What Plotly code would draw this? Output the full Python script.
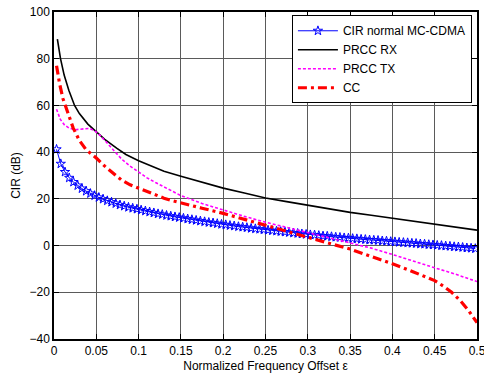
import numpy as np
import plotly.graph_objects as go

# Blue series (dense, star markers)
eps_blue = np.round(0.003 + 0.005 * np.arange(100), 4)
cir_normal = [41.2, 35.0, 31.5, 29.0, 27.2, 25.7, 24.4, 23.3, 22.3, 21.4,
              20.6, 19.9, 19.2, 18.6, 18.0, 17.4, 16.9, 16.4, 16.0, 15.6,
              15.2, 14.8, 14.4, 14.0, 13.6, 13.3, 12.9, 12.6, 12.3, 12.0,
              11.7, 11.4, 11.1, 10.8, 10.5, 10.2, 9.9, 9.7, 9.4, 9.1,
              8.9, 8.6, 8.4, 8.1, 7.9, 7.7, 7.4, 7.2, 7.0, 6.8,
              6.6, 6.4, 6.2, 6.0, 5.8, 5.6, 5.4, 5.2, 5.0, 4.8,
              4.6, 4.5, 4.3, 4.1, 4.0, 3.8, 3.6, 3.5, 3.3, 3.2,
              3.0, 2.9, 2.7, 2.6, 2.4, 2.3, 2.2, 2.0, 1.9, 1.7,
              1.6, 1.4, 1.3, 1.2, 1.0, 0.9, 0.7, 0.6, 0.4, 0.3,
              0.1, 0.0, -0.2, -0.3, -0.5, -0.6, -0.8, -1.0, -1.1, -1.3]

# PRCC RX (black solid)
eps_rx = [0.004, 0.0077, 0.012, 0.0175, 0.0243, 0.03, 0.04, 0.05, 0.06, 0.074,
          0.085, 0.1, 0.113, 0.13, 0.15, 0.175, 0.2, 0.225, 0.25, 0.275,
          0.3, 0.325, 0.35, 0.375, 0.4, 0.425, 0.45, 0.475, 0.5]
prcc_rx = [88.4, 80.0, 73.0, 66.5, 60.0, 56.5, 52.0, 48.8, 45.5, 41.7,
           39.0, 36.3, 34.2, 31.8, 29.7, 27.0, 24.6, 22.5, 20.4, 18.8,
           17.2, 15.7, 14.2, 13.0, 11.7, 10.4, 9.1, 7.9, 6.6]

# PRCC TX (magenta dotted)
eps_tx = [0.003, 0.0075, 0.0125, 0.018, 0.025, 0.034, 0.042, 0.048, 0.055, 0.06,
          0.065, 0.07, 0.075, 0.08, 0.09, 0.1, 0.11, 0.12, 0.13, 0.14,
          0.15, 0.175, 0.2, 0.225, 0.25, 0.275, 0.3, 0.325, 0.35, 0.375,
          0.4, 0.425, 0.45, 0.475, 0.5]
prcc_tx = [58.4, 54.0, 51.6, 50.3, 49.6, 49.8, 50.2, 49.2, 47.0, 45.0,
           43.0, 41.0, 39.0, 37.0, 34.0, 31.5, 29.0, 27.0, 25.2, 23.3,
           21.4, 18.0, 15.2, 12.5, 10.0, 7.8, 5.5, 3.4, 1.3, -1.1,
           -3.8, -6.5, -9.5, -12.3, -15.4]

# CC (red dash-dot)
eps_cc = [0.003, 0.0065, 0.0105, 0.0165, 0.0225, 0.03, 0.038, 0.05, 0.06, 0.07,
          0.08, 0.09, 0.1, 0.11, 0.12, 0.13, 0.14, 0.15, 0.175, 0.2,
          0.225, 0.25, 0.275, 0.3, 0.325, 0.35, 0.375, 0.4, 0.425, 0.45,
          0.46, 0.47, 0.48, 0.49, 0.5]
cc = [77.0, 69.5, 63.0, 56.6, 50.5, 45.0, 41.0, 37.5, 34.0, 31.0,
      28.0, 26.0, 24.5, 23.0, 21.5, 20.3, 19.2, 18.2, 16.0, 13.8,
      11.2, 8.7, 6.0, 3.3, 1.0, -1.5, -4.5, -7.8, -11.3, -15.0,
      -17.3, -20.0, -23.5, -27.8, -33.0]

x_ticks = [0, 0.05, 0.1, 0.15, 0.2, 0.25, 0.3, 0.35, 0.4, 0.45, 0.5]
x_ticklabels = ["0", "0.05", "0.1", "0.15", "0.2", "0.25", "0.3", "0.35", "0.4", "0.45", "0.5"]
y_ticks = [-40, -20, 0, 20, 40, 60, 80, 100]

FONT = "Liberation Sans, Arial, sans-serif"

fig = go.Figure()
fig.add_trace(go.Scatter(
    x=eps_blue, y=cir_normal, name="CIR normal MC-CDMA", mode="lines+markers",
    line=dict(color="#0000ff", width=1),
    marker=dict(symbol="star-open", size=7, color="#0000ff", line=dict(width=1, color="#0000ff"))))
fig.add_trace(go.Scatter(
    x=eps_rx, y=prcc_rx, name="PRCC RX", mode="lines",
    line=dict(color="#000000", width=1.6)))
fig.add_trace(go.Scatter(
    x=eps_tx, y=prcc_tx, name="PRCC TX", mode="lines",
    line=dict(color="#ff00ff", width=1.6, dash="3px,2px")))
fig.add_trace(go.Scatter(
    x=eps_cc, y=cc, name="CC", mode="lines",
    line=dict(color="#ff0000", width=3.2, dash="9px,4px,3px,4px")))

axis_common = dict(
    showline=True, linecolor="black", linewidth=1.5, mirror="ticks",
    ticks="inside", ticklen=5, tickcolor="black", tickwidth=1,
    showgrid=True, gridcolor="#5a5a5a", gridwidth=1,
    zeroline=False, automargin=False, ticklabeloverflow="allow",
    tickfont=dict(family=FONT, size=12, color="black"),
)

fig.update_layout(
    width=484, height=377,
    margin=dict(l=54, r=7, t=12, b=38),
    paper_bgcolor="white", plot_bgcolor="white",
    font=dict(family=FONT, size=12, color="black"),
    showlegend=True,
    legend=dict(
        x=0.988, y=0.99, xanchor="right", yanchor="top",
        bgcolor="white", bordercolor="black", borderwidth=1,
        font=dict(family=FONT, size=12, color="black"),
        itemwidth=40, tracegroupgap=0,
    ),
    xaxis=dict(range=[0, 0.5], tickvals=x_ticks, ticktext=x_ticklabels,
               title=dict(text="Normalized Frequency Offset ε", standoff=4,
                          font=dict(family=FONT, size=12)),
               **axis_common),
    yaxis=dict(range=[-40, 100], tickvals=y_ticks,
               title=dict(text="CIR (dB)", standoff=6,
                          font=dict(family=FONT, size=12)),
               **axis_common),
)

fig.write_html("out.html", config={"displayModeBar": False},
               post_script="document.body.style.margin='0';document.body.style.padding='0';")
